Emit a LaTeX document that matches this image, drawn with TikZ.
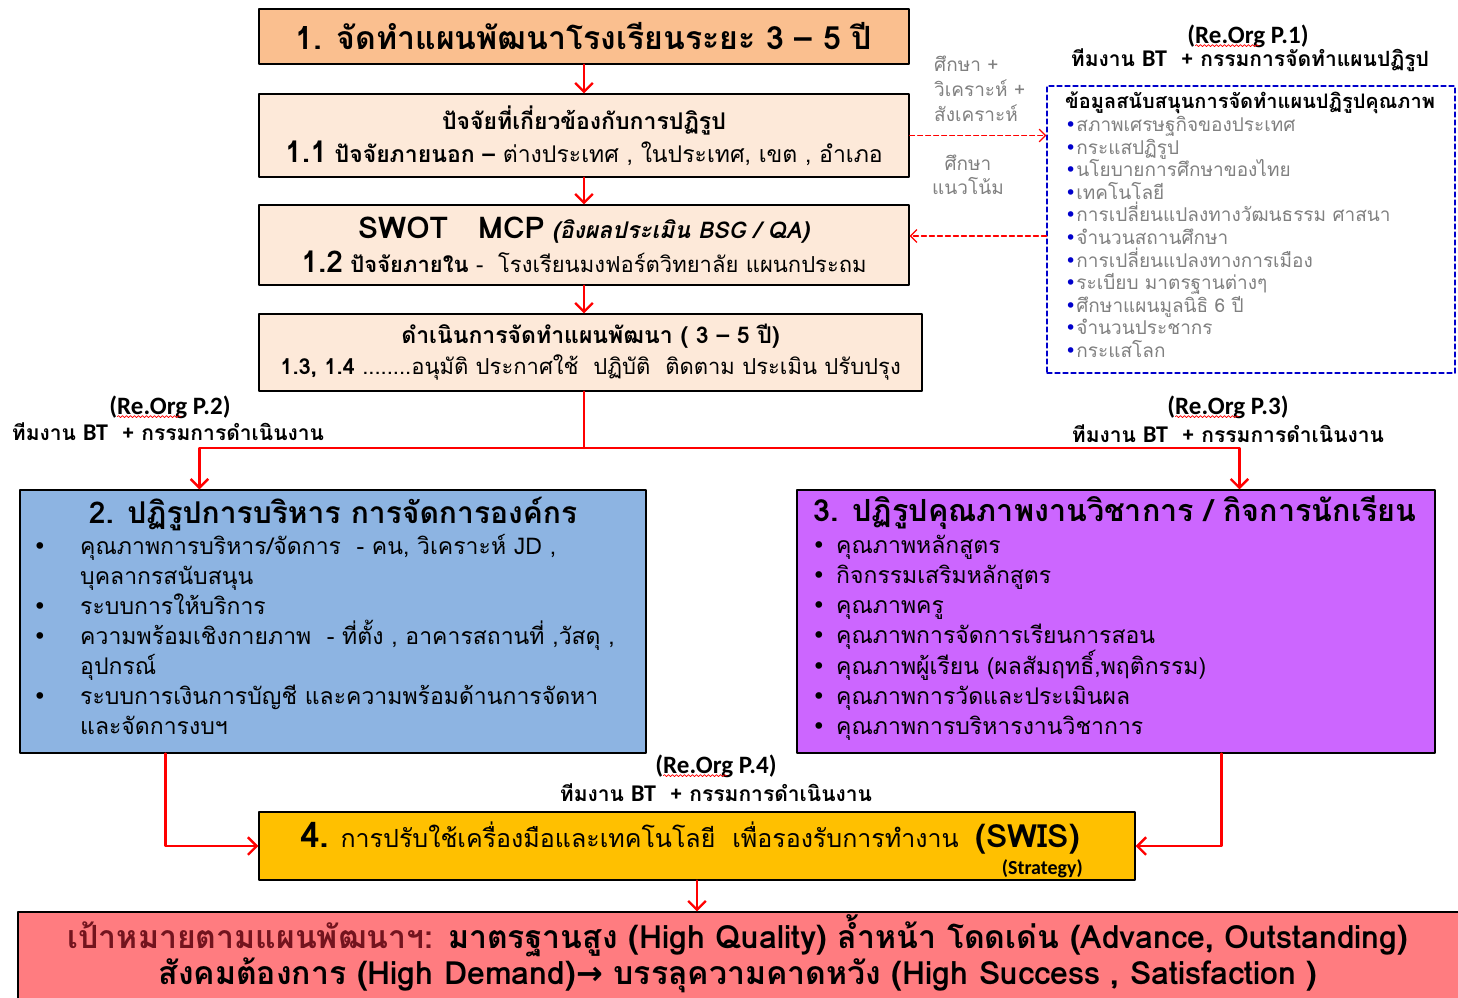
\documentclass[tikz,border=0pt]{standalone}
\usepackage{fontspec}
\setmainfont[Script=Thai]{Loma}
\newfontfamily\symfont{DejaVu Sans}
\newfontfamily\labelfont{Carlito}
\usetikzlibrary{arrows.meta,positioning,decorations.pathmorphing}
\definecolor{planorange}{RGB}{250,191,143}
\definecolor{planpeach}{RGB}{253,233,217}
\definecolor{adminblue}{RGB}{141,180,226}
\definecolor{acadviolet}{RGB}{204,102,255}
\definecolor{toolyellow}{RGB}{255,192,0}
\definecolor{goalpink}{RGB}{255,124,128}
\definecolor{goaldark}{RGB}{115,20,30}
\definecolor{notegray}{RGB}{128,128,128}
\definecolor{infoblue}{RGB}{0,0,204}
\tikzset{
  stagebox/.style={draw=black,line width=1.2pt,inner sep=0pt},
  flow/.style={draw=red,line width=2.4pt},
  dflow/.style={draw=red,line width=1.2pt,dash pattern=on 5pt off 3pt},
  orglabel/.style={inner sep=1pt,font=\bfseries\fontsize{21}{24}\selectfont},
  spell/.style={red,line width=0.6pt,decorate,decoration={snake,amplitude=1pt,segment length=4pt}},
  every picture/.style={line cap=round,line join=round}
}
\newcommand{\itm}[1]{\makebox[47pt][l]{{\symfont •}}#1}
\newcommand{\cont}[1]{\hspace*{47pt}#1}
\newcommand{\vitm}[1]{\makebox[24pt][l]{{\symfont •}}#1}
\newcommand{\infoitem}[1]{{\color{infoblue}\symfont •}\textcolor{notegray}{#1}}

\begin{document}
\begin{tikzpicture}[x=1pt,y=-1pt,>={Straight Barb[length=4pt 2,width=8pt 4]}]
  \useasboundingbox (0,0) rectangle (1458,997);

  % stage 1 boxes
  \node[stagebox,fill=planorange,minimum width=650pt,minimum height=55pt,
    font=\bfseries\fontsize{32}{36}\selectfont] (plan) at (584,36.5)
    {1. จัดทำแผนพัฒนาโรงเรียนระยะ 3 – 5 ปี};
  \node[stagebox,fill=planpeach,minimum width=650pt,minimum height=83pt,align=center,
    font=\fontsize{23}{33}\selectfont] (ext) at (584,135.5)
    {\textbf{ปัจจัยที่เกี่ยวข้องกับการปฏิรูป}\\
     {\bfseries\fontsize{30}{30}\selectfont 1.1} \textbf{ปัจจัยภายนอก –} ต่างประเทศ , ในประเทศ, เขต , อำเภอ};
  \node[stagebox,fill=planpeach,minimum width=650pt,minimum height=80pt,align=center,
    font=\fontsize{22}{34}\selectfont] (int) at (584,245)
    {{\bfseries\fontsize{30}{30}\selectfont SWOT\quad MCP} {\fontsize{23}{30}\selectfont\textbf{\textit{(อิงผลประเมิน BSG / QA)}}}\\
     {\bfseries\fontsize{30}{30}\selectfont 1.2} \textbf{ปัจจัยภายใน} -\ \ โรงเรียนมงฟอร์ตวิทยาลัย แผนกประถม};
  \node[stagebox,fill=planpeach,minimum width=663pt,minimum height=77pt,align=center,
    font=\fontsize{22}{31}\selectfont] (run) at (590.5,352.5)
    {{\fontsize{23}{30}\selectfont\textbf{ดำเนินการจัดทำแผนพัฒนา ( 3 – 5 ปี)}}\\
     \textbf{1.3, 1.4} ........อนุมัติ ประกาศใช้\ \ ปฏิบัติ\ \ ติดตาม ประเมิน ปรับปรุง};

  \draw[flow,->] (plan) -- (ext);
  \draw[flow,->] (ext) -- (int);
  \draw[flow,->] (int.south) -- (int.south |- run.north);

  % supporting data
  \node[draw=infoblue,line width=1.2pt,dash pattern=on 5pt off 3pt,
    minimum width=408pt,minimum height=287pt] (info) at (1251,229.5) {};
  \node[anchor=north west,align=left,inner sep=0pt,font=\fontsize{19}{22.6}\selectfont] (infolist) at (1065,92)
    {{\fontsize{20}{22.6}\selectfont\textbf{ข้อมูลสนับสนุนการจัดทำแผนปฏิรูปคุณภาพ}}\\
     \infoitem{สภาพเศรษฐกิจของประเทศ}\\
     \infoitem{กระแสปฏิรูป}\\
     \infoitem{นโยบายการศึกษาของไทย}\\
     \infoitem{เทคโนโลยี}\\
     \infoitem{การเปลี่ยนแปลงทางวัฒนธรรม ศาสนา}\\
     \infoitem{จำนวนสถานศึกษา}\\
     \infoitem{การเปลี่ยนแปลงทางการเมือง}\\
     \infoitem{ระเบียบ มาตรฐานต่างๆ}\\
     \infoitem{ศึกษาแผนมูลนิธิ 6 ปี}\\
     \infoitem{จำนวนประชากร}\\
     \infoitem{กระแสโลก}};
  \node[anchor=north west,align=left,inner sep=0pt,text=notegray,
    font=\fontsize{19}{25}\selectfont] (study) at (934,56) {ศึกษา +\\วิเคราะห์ +\\สังเคราะห์};
  \node[align=center,text=notegray,font=\fontsize{19}{24}\selectfont] (trend) at (968,175) {ศึกษา\\แนวโน้ม};
  \path ([yshift=9pt]int.east) coordinate (intin);
  \draw[dflow,->] (ext.east) -- (ext.east -| info.west);
  \draw[dflow,->] (intin -| info.west) -- (intin);

  % team labels
  \node[orglabel] (p1) at (1248,36) {\labelfont\fontsize{25}{26}\selectfont (Re.Org P.1)};
  \node[orglabel] (p1team) at (1250,60) {ทีมงาน {\labelfont\fontsize{24}{24}\selectfont BT}\ \ + กรรมการจัดทำแผนปฏิรูป};
  \node[orglabel] (p2) at (170,407) {\labelfont\fontsize{25}{26}\selectfont (Re.Org P.2)};
  \node[orglabel] (p2team) at (168,432) {ทีมงาน {\labelfont\fontsize{24}{24}\selectfont BT}\ \ + กรรมการดำเนินงาน};
  \node[orglabel] (p3) at (1228,407) {\labelfont\fontsize{25}{26}\selectfont (Re.Org P.3)};
  \node[orglabel] (p3team) at (1228,434) {ทีมงาน {\labelfont\fontsize{24}{24}\selectfont BT}\ \ + กรรมการดำเนินงาน};
  \node[orglabel] (p4) at (716,766) {\labelfont\fontsize{25}{26}\selectfont (Re.Org P.4)};
  \node[orglabel] (p4team) at (716,793) {ทีมงาน {\labelfont\fontsize{24}{24}\selectfont BT}\ \ + กรรมการดำเนินงาน};
  \foreach \p in {p1,p2,p3,p4}
    \draw[spell] ([xshift=9pt,yshift=3pt]\p.south west) -- ++(64,0);

  % stage 2 and 3
  \node[stagebox,fill=adminblue,minimum width=626pt,minimum height=263pt] (adm) at (333,621.5) {};
  \node[font=\bfseries\fontsize{30}{32}\selectfont] (admtitle) at (333,514)
    {2. ปฏิรูปการบริหาร การจัดการองค์กร};
  \node[anchor=north west,align=left,inner sep=0pt,font=\fontsize{23}{30}\selectfont] (admlist) at (33,534)
    {\itm{คุณภาพการบริหาร/จัดการ\ \ - คน, วิเคราะห์ JD ,}\\
     \cont{บุคลากรสนับสนุน}\\
     \itm{ระบบการให้บริการ}\\
     \itm{ความพร้อมเชิงกายภาพ\ \ - ที่ตั้ง , อาคารสถานที่ ,วัสดุ ,}\\
     \cont{อุปกรณ์}\\
     \itm{ระบบการเงินการบัญชี และความพร้อมด้านการจัดหา}\\
     \cont{และจัดการงบฯ}};
  \node[stagebox,fill=acadviolet,minimum width=638pt,minimum height=263pt] (acad) at (1116,621.5) {};
  \node[font=\bfseries\fontsize{30.5}{32}\selectfont] (acadtitle) at (1115,513)
    {3. ปฏิรูปคุณภาพงานวิชาการ / กิจการนักเรียน};
  \node[anchor=north west,align=left,inner sep=0pt,font=\fontsize{23}{30}\selectfont] (acadlist) at (812,535)
    {\vitm{คุณภาพหลักสูตร}\\
     \vitm{กิจกรรมเสริมหลักสูตร}\\
     \vitm{คุณภาพครู}\\
     \vitm{คุณภาพการจัดการเรียนการสอน}\\
     \vitm{คุณภาพผู้เรียน (ผลสัมฤทธิ์,พฤติกรรม)}\\
     \vitm{คุณภาพการวัดและประเมินผล}\\
     \vitm{คุณภาพการบริหารงานวิชาการ}};

  \coordinate (fork) at (584,448);
  \draw[flow] (int.south |- run.south) -- (fork);
  \draw[flow,->] (fork) -| ([xshift=180pt]adm.north west);
  \draw[flow,->] (fork) -| ([xshift=443pt]acad.north west);

  % stage 4 and goal
  \node[stagebox,fill=toolyellow,minimum width=876pt,minimum height=68pt] (tool) at (697,846) {};
  \node[font=\fontsize{25}{26}\selectfont] (tooltext) at (690,838)
    {{\bfseries\fontsize{35}{34}\selectfont 4.} การปรับใช้เครื่องมือและเทคโนโลยี\ \ เพื่อรองรับการทำงาน\ \ {\bfseries\fontsize{32}{30}\selectfont (SWIS)}};
  \node[anchor=north east,inner sep=0pt,font=\labelfont\bfseries\fontsize{20}{22}\selectfont] (strategy) at (1083,859) {(Strategy)};
  \draw[flow,->] ([xshift=146pt]adm.south west) |- (tool.west);
  \draw[flow,->] ([xshift=425pt]acad.south west) |- (tool.east);

  \node[stagebox,fill=goalpink,minimum width=1444pt,minimum height=91pt] (goal) at (740,957.5) {};
  \node[align=center,inner sep=0pt,font=\bfseries\fontsize{32}{34}\selectfont] (goaltext) at (738,954)
    {\textcolor{goaldark}{เป้าหมายตามแผนพัฒนาฯ:} มาตรฐานสูง (High Quality) ล้ำหน้า โดดเด่น (Advance, Outstanding)\\
     สังคมต้องการ (High Demand){\symfont →} บรรลุความคาดหวัง (High Success , Satisfaction )};
  \draw[flow,->] (tool.south) -- (tool.south |- goal.north);
\end{tikzpicture}
\end{document}
